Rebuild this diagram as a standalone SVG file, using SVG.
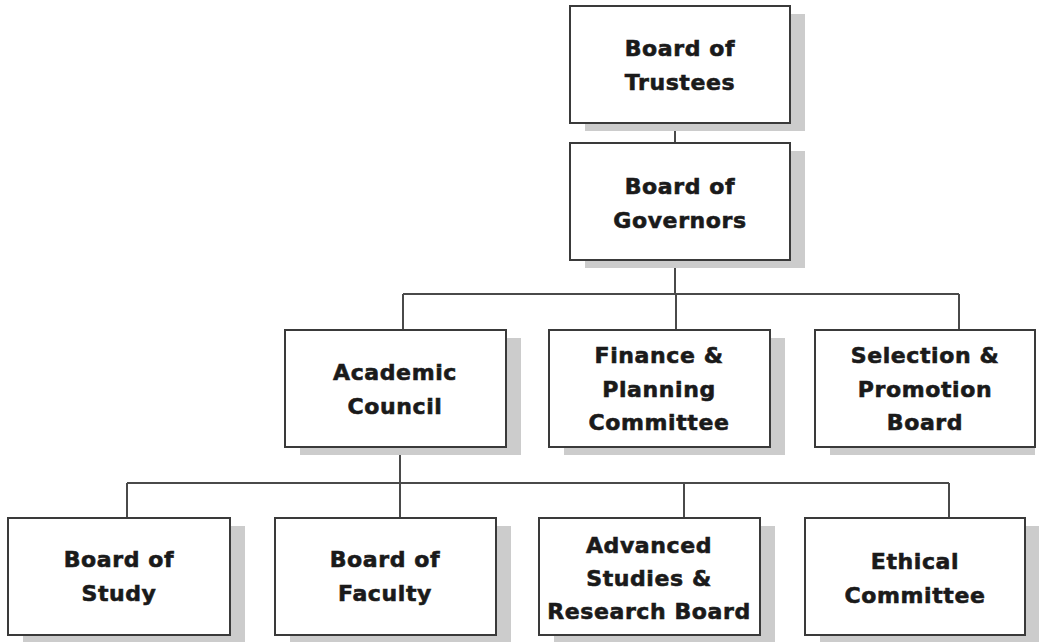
<svg xmlns="http://www.w3.org/2000/svg" width="1039" height="642" viewBox="0 0 1039 642">
<style>
.sh{fill:#cccccc}
.bx{fill:#ffffff;stroke:#3a3a3a;stroke-width:2}
.t{font-family:"DejaVu Sans",sans-serif;font-weight:bold;font-size:22px;fill:#1a1a1a;stroke:#1a1a1a;stroke-width:0.6;letter-spacing:0.6px;text-anchor:middle}
.c{fill:none;stroke:#4a4a4a;stroke-width:2}
</style>
<rect width="1039" height="642" fill="#ffffff"/>
<g id="connectors">
<path class="c" d="M675 123V143M675 260V294M403 294H959M403 294V330M676 294V330M959 294V330"/>
<path class="c" d="M400 447V483M127 483H949M127 483V518M400 483V518M684 483V518M949 483V518"/>
</g>
<g id="trustees">
<rect class="sh" x="585" y="14" width="220" height="117"/>
<rect class="bx" x="570" y="6" width="220" height="117"/>
<text class="t" x="680" y="56">Board of</text>
<text class="t" x="680" y="90">Trustees</text>
</g>
<g id="governors">
<rect class="sh" x="585" y="151" width="220" height="117"/>
<rect class="bx" x="570" y="143" width="220" height="117"/>
<text class="t" x="680" y="194">Board of</text>
<text class="t" x="680" y="228">Governors</text>
</g>
<g id="academic">
<rect class="sh" x="300" y="338" width="221" height="117"/>
<rect class="bx" x="285" y="330" width="221" height="117"/>
<text class="t" x="395" y="380">Academic</text>
<text class="t" x="395" y="414">Council</text>
</g>
<g id="finance">
<rect class="sh" x="564" y="338" width="221" height="117"/>
<rect class="bx" x="549" y="330" width="221" height="117"/>
<text class="t" x="659" y="363">Finance &amp;</text>
<text class="t" x="659" y="397">Planning</text>
<text class="t" x="659" y="430">Committee</text>
</g>
<g id="selection">
<rect class="sh" x="830" y="338" width="205" height="117"/>
<rect class="bx" x="815" y="330" width="220" height="117"/>
<text class="t" x="925" y="363">Selection &amp;</text>
<text class="t" x="925" y="397">Promotion</text>
<text class="t" x="925" y="430">Board</text>
</g>
<g id="study">
<rect class="sh" x="23" y="526" width="222" height="116"/>
<rect class="bx" x="8" y="518" width="222" height="117"/>
<text class="t" x="119" y="567">Board of</text>
<text class="t" x="119" y="601">Study</text>
</g>
<g id="faculty">
<rect class="sh" x="290" y="526" width="221" height="116"/>
<rect class="bx" x="275" y="518" width="221" height="117"/>
<text class="t" x="385" y="567">Board of</text>
<text class="t" x="385" y="601">Faculty</text>
</g>
<g id="advanced">
<rect class="sh" x="554" y="526" width="221" height="116"/>
<rect class="bx" x="539" y="518" width="221" height="117"/>
<text class="t" x="649" y="553">Advanced</text>
<text class="t" x="649" y="586">Studies &amp;</text>
<text class="t" x="649" y="619">Research Board</text>
</g>
<g id="ethical">
<rect class="sh" x="820" y="526" width="219" height="116"/>
<rect class="bx" x="805" y="518" width="220" height="117"/>
<text class="t" x="915" y="569">Ethical</text>
<text class="t" x="915" y="603">Committee</text>
</g>
</svg>
